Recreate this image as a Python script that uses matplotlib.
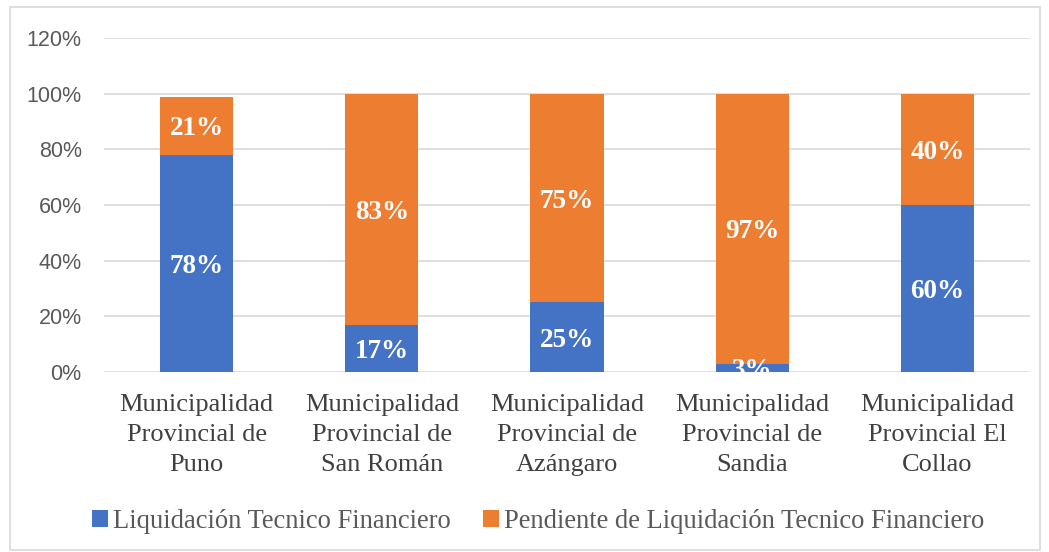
import matplotlib
matplotlib.use("Agg")
import matplotlib.pyplot as plt
from matplotlib.patches import Rectangle
import numpy as np

categories = ["Municipalidad\nProvincial de\nPuno", "Municipalidad\nProvincial de\nSan Román",
              "Municipalidad\nProvincial de\nAzángaro", "Municipalidad\nProvincial de\nSandia",
              "Municipalidad\nProvincial El\nCollao"]
liquidacion = [78, 17, 25, 3, 60]
pendiente = [21, 83, 75, 97, 40]
series_names = ["Liquidación Tecnico Financiero", "Pendiente de Liquidación Tecnico Financiero"]
yticks = [0, 20, 40, 60, 80, 100, 120]

blue = "#4472C4"
orange = "#ED7D31"
serif = "Liberation Serif"
sans = "Liberation Sans"

fig = plt.figure(figsize=(10.49, 5.52), dpi=100)
ax = fig.add_axes([0.0991, 0.326, 0.8829, 0.605])

x = np.arange(len(categories))
w = 0.395
b1 = ax.bar(x, liquidacion, w, color=blue, label=series_names[0], zorder=3)
b2 = ax.bar(x, pendiente, w, bottom=liquidacion, color=orange, label=series_names[1], zorder=3)

for i in range(len(categories)):
    ax.text(x[i], liquidacion[i] / 2, f"{liquidacion[i]}%", ha="center", va="center_baseline",
            color="white", fontweight="bold", fontsize=19.5, family=serif, zorder=4)
    ax.text(x[i], liquidacion[i] + pendiente[i] / 2, f"{pendiente[i]}%", ha="center", va="center_baseline",
            color="white", fontweight="bold", fontsize=19.5, family=serif, zorder=4)

ax.set_xlim(-0.5, len(categories) - 0.5)
ax.set_ylim(0, 120)
ax.set_yticks(yticks)
ax.set_yticklabels([f"{t}%" for t in yticks], fontsize=15.5, family=sans, color="#595959")
ax.set_xticks(x)
ax.set_xticklabels(categories, fontsize=19, family=serif, color="#404040", linespacing=1.45)
ax.tick_params(axis="both", length=0)
ax.tick_params(axis="x", pad=16)
ax.tick_params(axis="y", pad=16)
ax.grid(axis="y", color="#D9D9D9", linewidth=1.2, zorder=0)
for s in ax.spines.values():
    s.set_visible(False)

leg = fig.legend(handles=[b1, b2], loc="center", bbox_to_anchor=(0.513, 0.055), ncol=2,
                 frameon=False, prop={"family": serif, "size": 19.1},
                 handlelength=0.6, handleheight=0.6, handletextpad=0.2, columnspacing=1.2)
for t in leg.get_texts():
    t.set_color("#595959")

fig.patches.append(Rectangle((10 / 1049, 2 / 552), 1030 / 1049, 543 / 552, transform=fig.transFigure,
                             fill=False, edgecolor="#D9D9D9", linewidth=1.2))

fig.savefig("out.png", dpi=100)
